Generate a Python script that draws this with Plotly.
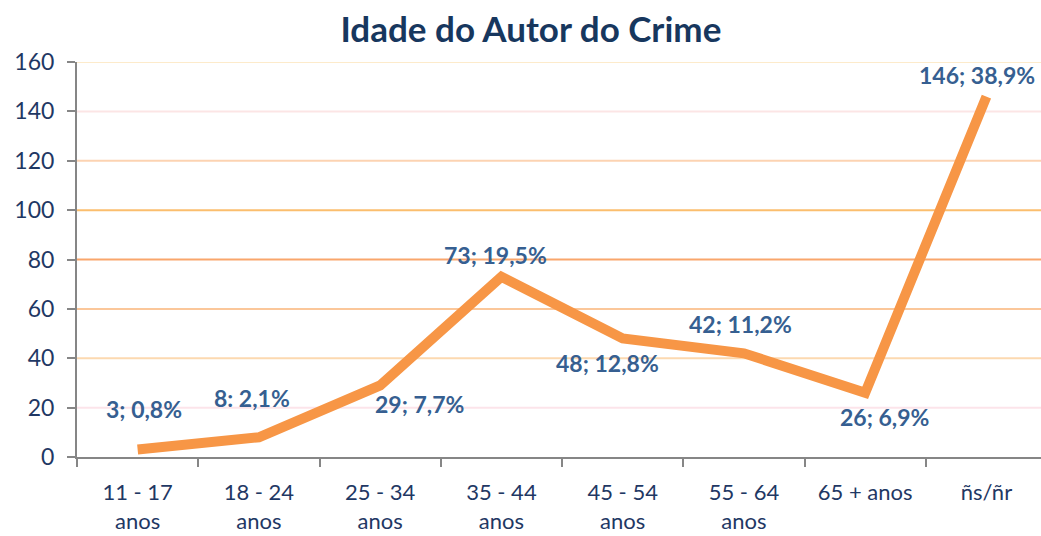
import plotly.graph_objects as go

categories = ["11 - 17<br>anos", "18 - 24<br>anos", "25 - 34<br>anos", "35 - 44<br>anos",
              "45 - 54<br>anos", "55 - 64<br>anos", "65 + anos", "ñs/ñr"]
counts = [3, 8, 29, 73, 48, 42, 26, 146]
labels = ["3; 0,8%", "8: 2,1%", "29; 7,7%", "73; 19,5%", "48; 12,8%", "42; 11,2%", "26; 6,9%", "146; 38,9%"]
y_ticks = [0, 20, 40, 60, 80, 100, 120, 140, 160]
grid_colors = ["#868686", "#FCE4EA", "#FCD9B0", "#FBC79A", "#F9A66C", "#FBBE6E", "#FCD3B2", "#FCE5E5", "#FDEBCB"]

# label offsets (px) relative to each point
label_shift = [(6, 41), (-7, 39), (39, -19), (-6, 22), (-15, -24), (-3, 29), (19, -24), (-9, 22)]

FONT = "Lato"
NAVY = "#1F3864"
LABEL = "#365F91"

fig = go.Figure()
fig.add_trace(go.Scatter(
    x=list(range(len(categories))), y=counts,
    mode="lines", line=dict(color="#F79646", width=10),
    hoverinfo="skip", showlegend=False
))

for i, (c, t) in enumerate(zip(counts, labels)):
    dx, dy = label_shift[i]
    fig.add_annotation(x=i, y=c, text=f"<b>{t}</b>", showarrow=False,
                       xshift=dx, yshift=dy,
                       font=dict(family=FONT, size=23, color=LABEL))

for v, col in zip(y_ticks[1:], grid_colors[1:]):
    fig.add_shape(type="line", xref="paper", yref="y", x0=0, x1=1, y0=v, y1=v,
                  line=dict(color=col, width=2), layer="below")

fig.update_layout(
    width=1041, height=536,
    margin=dict(l=77, r=0, t=62, b=79, autoexpand=False),
    paper_bgcolor="white", plot_bgcolor="white",
    title=dict(text="<b>Idade do Autor do Crime</b>", x=0.51, xref="container",
               xanchor="center", y=0.944, yanchor="middle",
               font=dict(family=FONT, size=35, color="#17375E")),
    font=dict(family=FONT, color=NAVY),
)
fig.update_xaxes(
    tickmode="array", tickvals=list(range(len(categories))), ticktext=categories,
    range=[-0.5, 7.45], showgrid=False, zeroline=False,
    showline=True, linecolor="#868686", linewidth=2,
    ticks="", ticklabelstandoff=15, tickfont=dict(family=FONT, size=22, color=NAVY),
)
# category boundary ticks
fig.update_xaxes(minor=dict(ticks="outside", ticklen=8, tickcolor="#868686", tickwidth=2,
                            tickmode="array", tickvals=[i - 0.5 for i in range(len(categories))]))
fig.update_yaxes(
    range=[0, 160], tickvals=y_ticks, showgrid=False, zeroline=False,
    showline=True, linecolor="#868686", linewidth=2,
    ticks="outside", ticklen=8, tickcolor="#868686", tickwidth=2, ticklabelstandoff=8,
    tickfont=dict(family=FONT, size=23, color=NAVY),
)

fig.write_html("out.html", config={"displayModeBar": False},
               post_script="document.body.style.margin='0';")
